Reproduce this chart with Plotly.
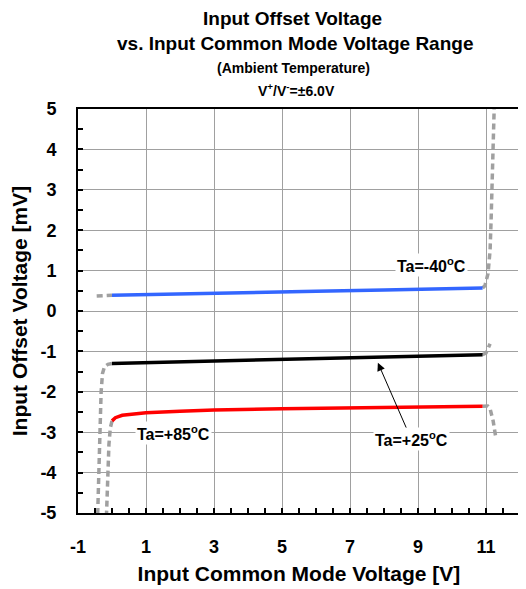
import plotly.graph_objects as go

# ---- data ----
blue_x = [0.0, 1.0, 2.0, 4.0, 6.0, 8.0, 10.0, 10.9]
blue_y = [0.39, 0.41, 0.43, 0.46, 0.49, 0.52, 0.55, 0.57]
blue_gl_x = [-0.45, -0.2, 0.0]
blue_gl_y = [0.37, 0.38, 0.39]
blue_gr_x = [10.9, 10.97, 11.06, 11.12, 11.15, 11.18, 11.21, 11.24]
blue_gr_y = [0.57, 0.63, 0.93, 1.5, 2.25, 3.16, 4.1, 5.0]

black_x = [0.0, 1.0, 2.0, 4.0, 6.0, 8.0, 10.0, 10.9]
black_y = [-1.30, -1.28, -1.26, -1.22, -1.18, -1.14, -1.10, -1.08]
black_gl_x = [0.0, -0.12, -0.22, -0.28, -0.32, -0.35, -0.38, -0.42]
black_gl_y = [-1.30, -1.32, -1.38, -1.55, -2.0, -3.0, -4.0, -5.0]
black_gr_x = [10.9, 11.0, 11.06, 11.12]
black_gr_y = [-1.08, -1.04, -0.93, -0.81]

red_x = [0.0, 0.1, 0.3, 0.6, 1.0, 2.0, 3.0, 5.0, 7.0, 9.0, 10.9]
red_y = [-2.72, -2.64, -2.58, -2.55, -2.52, -2.48, -2.45, -2.42, -2.40, -2.38, -2.36]
red_gl_x = [0.0, -0.05, -0.09, -0.11, -0.13, -0.16]
red_gl_y = [-2.72, -2.9, -3.3, -4.0, -4.5, -5.0]
red_gr_x = [10.9, 11.05, 11.12, 11.21, 11.29]
red_gr_y = [-2.36, -2.35, -2.42, -2.72, -3.14]

x_ticks = [-1, 1, 3, 5, 7, 9, 11]
y_ticks = [-5, -4, -3, -2, -1, 0, 1, 2, 3, 4, 5]

FONT = "Liberation Sans, Arial, sans-serif"
GRAY = "#a0a0a0"

fig = go.Figure()

def gray(x, y):
    fig.add_trace(go.Scatter(x=x, y=y, mode="lines",
                             line=dict(color=GRAY, width=3.5, dash="6px,4px"),
                             showlegend=False, hoverinfo="skip"))

for gx, gy in [(blue_gl_x, blue_gl_y), (blue_gr_x, blue_gr_y),
               (black_gl_x, black_gl_y), (black_gr_x, black_gr_y),
               (red_gl_x, red_gl_y), (red_gr_x, red_gr_y)]:
    gray(gx, gy)

fig.add_trace(go.Scatter(x=blue_x, y=blue_y, mode="lines",
                         line=dict(color="#3366ff", width=3.5), name="Ta=-40°C", showlegend=False))
fig.add_trace(go.Scatter(x=black_x, y=black_y, mode="lines",
                         line=dict(color="#000000", width=3.5), name="Ta=+25°C", showlegend=False))
fig.add_trace(go.Scatter(x=red_x, y=red_y, mode="lines",
                         line=dict(color="#ff0000", width=3.5), name="Ta=+85°C", showlegend=False))

axis_common = dict(
    showline=True, linecolor="black", linewidth=2, mirror=True,
    showgrid=True, gridcolor=GRAY, gridwidth=1,
    zeroline=False, automargin=False,
    ticks="inside", ticklen=5, tickcolor="black", tickwidth=1.5,
    tickfont=dict(family=FONT, size=18, color="black", weight="bold"),
    ticklabelstandoff=16,
)

fig.update_xaxes(range=[-1, 12], tickvals=x_ticks, ticktext=[str(v) for v in x_ticks],
                 minor=dict(dtick=0.5, tick0=-1, ticks="inside", ticklen=5, tickcolor="black",
                            showgrid=False),
                 title=dict(text="<b>Input Common Mode Voltage [V]</b>",
                            font=dict(family=FONT, size=21, color="black"), standoff=11),
                 **axis_common)
fig.update_yaxes(range=[-5, 5], tickvals=y_ticks, ticktext=[str(v) for v in y_ticks],
                 minor=dict(dtick=0.5, tick0=-5, ticks="inside", ticklen=5, tickcolor="black",
                            showgrid=False),
                 title=dict(text="<b>Input Offset Voltage [mV]</b>",
                            font=dict(family=FONT, size=21, color="black"), standoff=8),
                 **axis_common)

def ptxt(text, x, py, size):
    fig.add_annotation(text=text, xref="paper", yref="paper", x=x,
                       y=(513 - py) / 404.0, xanchor="center", yanchor="middle",
                       showarrow=False, font=dict(family=FONT, size=size, color="black"))

ptxt("<b>Input Offset Voltage</b>", 0.485, 18, 19)
ptxt("<b>vs. Input Common Mode Voltage Range</b>", 0.49, 43, 19)
ptxt("<b>(Ambient Temperature)</b>", 0.487, 68, 14)
ptxt("<b>V<sup>+</sup>/V<sup>-</sup>=±6.0V</b>", 0.495, 90, 14)

lab_font = dict(family=FONT, size=16, color="black")
fig.add_annotation(x=9.41, y=1.13, text="<b>Ta=-40<sup>o</sup>C</b>", showarrow=False,
                   font=lab_font, bgcolor="white")
fig.add_annotation(x=1.82, y=-3.02, text="<b>Ta=+85<sup>o</sup>C</b>", showarrow=False,
                   font=lab_font, bgcolor="white")
fig.add_annotation(x=7.82, y=-1.28, ax=8.8, ay=-3.17, axref="x", ayref="y",
                   text="<b>Ta=+25<sup>o</sup>C</b>", showarrow=True,
                   arrowhead=2, arrowsize=1.6, arrowwidth=1, arrowcolor="black",
                   font=lab_font, bgcolor="white")

# page body adds an 8px offset; margins compensate so the plot box sits at the reference position
fig.update_layout(width=526, height=589, paper_bgcolor="white", plot_bgcolor="white",
                  margin=dict(l=70, r=14, t=101, b=84), showlegend=False,
                  font=dict(family=FONT))

fig.write_html("out.html")
